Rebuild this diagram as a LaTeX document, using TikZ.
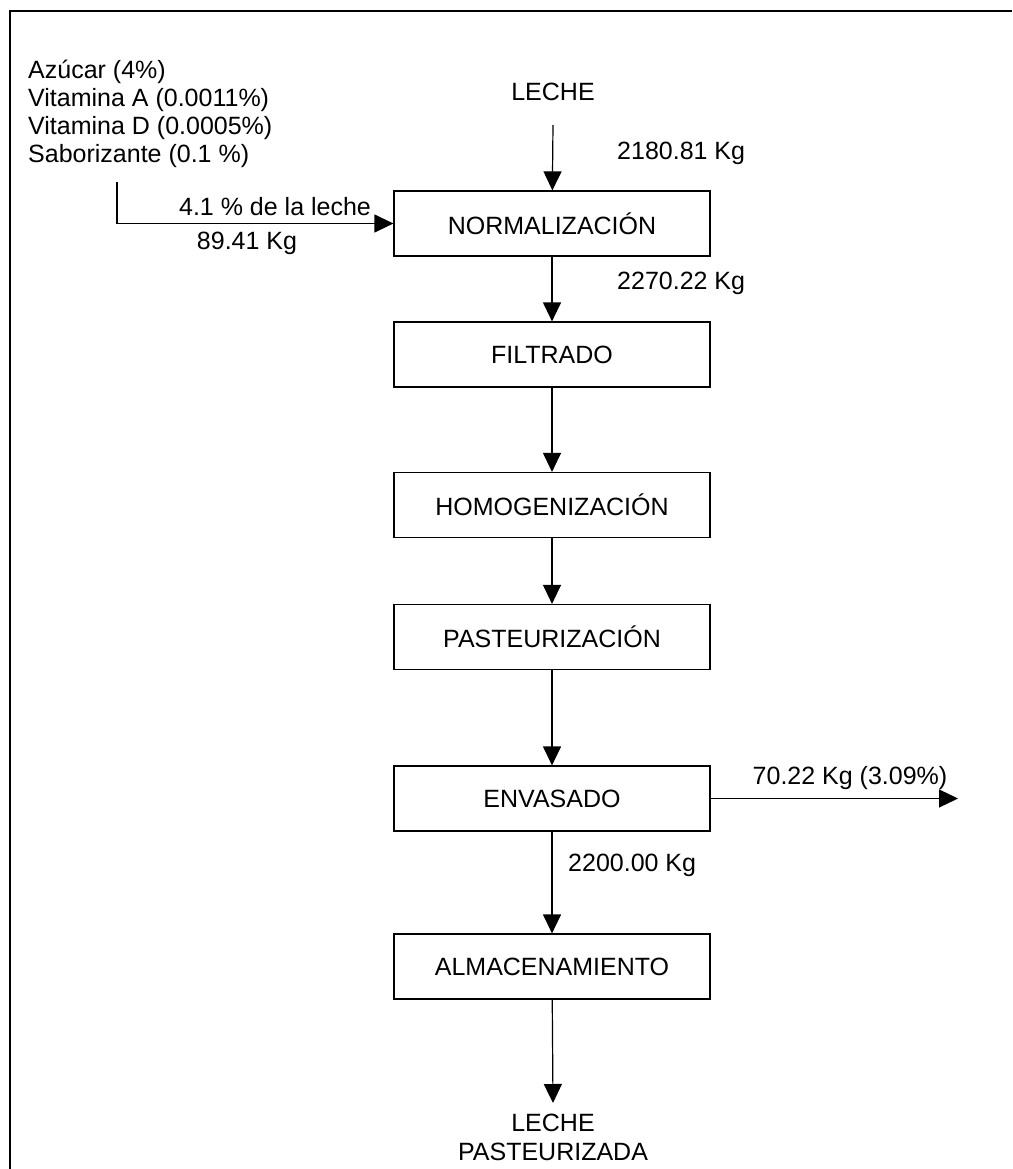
\documentclass[tikz,border=0pt]{standalone}
\usepackage{fontspec}
\setmainfont{Liberation Sans}
\usetikzlibrary{arrows.meta}
\begin{document}
\begin{tikzpicture}[x=1pt,y=-1pt,
  txt/.style={font=\fontsize{25}{29}\selectfont, inner sep=0pt},
  procbox/.style={draw, line width=1.2pt, minimum width=316pt, minimum height=65pt,
                  inner sep=0pt, font=\fontsize{25}{29}\selectfont},
  flow/.style={line width=1.2pt, -{Triangle[length=19pt,width=18pt]}}]
\useasboundingbox (0,0) rectangle (1012,1169);
% outer frame (top and left edges)
\draw[line width=1.6pt] (10,1169) -- (10,11) -- (1012,11);

% process steps
\node[procbox] (norm) at (552,223.5) {NORMALIZACIÓN};
\node[procbox] (filt) at (552,354.5) {FILTRADO};
\node[procbox] (homo) at (552,505) {HOMOGENIZACIÓN};
\node[procbox] (past) at (552,637) {PASTEURIZACIÓN};
\node[procbox] (env)  at (552,798.5) {ENVASADO};
\node[procbox] (alm)  at (552,966.5) {ALMACENAMIENTO};

% raw milk input
\node[txt] (leche) at (553,92) {LECHE};
\coordinate (lecheflow) at (553,125);
\draw[flow] (lecheflow) -- (norm);
\node[txt, anchor=west] (m1) at (617,153) {2180.81 Kg};

% additives
\node[txt, anchor=base west] (ad1) at (28,79) {Azúcar (4\%)};
\node[txt, anchor=base west] (ad2) at (28,107) {Vitamina A (0.0011\%)};
\node[txt, anchor=base west] (ad3) at (28,135) {Vitamina D (0.0005\%)};
\node[txt, anchor=base west] (ad4) at (28,163) {Saborizante (0.1 \%)};
\coordinate (addflow) at (117,182);
\draw[flow] (addflow) |- (norm.west);
\node[txt] (pct) at (275,207) {4.1 \% de la leche};
\node[txt] (m2) at (247,243) {89.41 Kg};

% main line
\draw[flow] (norm) -- (filt);
\node[txt, anchor=west] (m3) at (617,283) {2270.22 Kg};
\draw[flow] (filt) -- (homo);
\draw[flow] (homo) -- (past);
\draw[flow] (past) -- (env);

% packaging losses
\coordinate (loss) at (958,798.5);
\draw[flow] (env.east) -- (loss);
\node[txt] (m4) at (850,778) {70.22 Kg (3.09\%)};

\draw[flow] (env) -- (alm);
\node[txt, anchor=west] (m5) at (568,865) {2200.00 Kg};

% product output
\coordinate (prod) at (553,1103);
\draw[flow] (alm) -- (prod);
\node[txt] (out1) at (553,1123) {LECHE};
\node[txt] (out2) at (553,1152) {PASTEURIZADA};
\end{tikzpicture}
\end{document}
